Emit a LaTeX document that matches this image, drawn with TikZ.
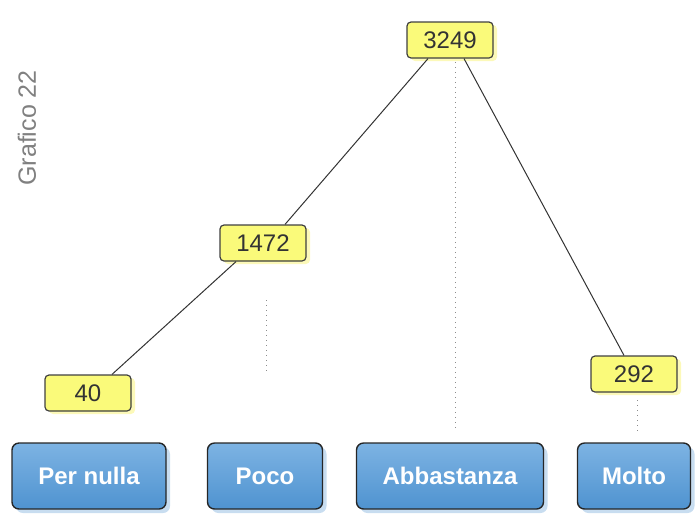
\documentclass[tikz,border=0pt]{standalone}
\usepackage{fontspec}
\setmainfont{Liberation Sans}
\usetikzlibrary{shadows,calc}
\definecolor{btnblue}{HTML}{4F93D0}
\definecolor{btnlight}{HTML}{7DB3E3}
\definecolor{valyellow}{HTML}{FAFA7A}
\definecolor{glow}{HTML}{FBF8A8}
\tikzset{
  val/.style={draw=black!75, line width=1.2pt, rounded corners=4pt, fill=valyellow,
    minimum width=86pt, minimum height=36pt, inner sep=1pt, font=\fontsize{24}{24}\selectfont, text=black!80,
    drop shadow={shadow xshift=4pt, shadow yshift=-3pt, fill=glow, opacity=0.8}},
  btn/.style={draw=black!85, line width=1.4pt, rounded corners=7pt,
    top color=btnlight, bottom color=btnblue, minimum height=66pt,
    font=\bfseries\fontsize{24}{24}\selectfont, text=white,
    drop shadow={shadow xshift=4pt, shadow yshift=-4pt, fill=btnblue!45, opacity=0.7}},
  edge/.style={draw=black!80, line width=1pt},
  dots/.style={draw=black!45, line width=1pt, dash pattern=on 1pt off 4pt},
}
\begin{document}
\begin{tikzpicture}[x=1pt,y=-1pt]
\useasboundingbox (0,0) rectangle (700,523);
\node[text=black!50, rotate=90, font=\fontsize{25}{25}\selectfont] (title) at (27,128) {Grafico 22};
% buttons
\node[btn, minimum width=154pt] (pn) at (89,476) {Per nulla};
\node[btn, minimum width=115pt] (poco) at (265,476) {Poco};
\node[btn, minimum width=187pt] (abb) at (450,476) {Abbastanza};
\node[btn, minimum width=113pt] (molto) at (634,476) {Molto};
% dotted guides
\coordinate (d1a) at (455,62);
\coordinate (d1b) at (455,430);
\coordinate (d2a) at (266,300);
\coordinate (d2b) at (266,372);
\coordinate (d3a) at (637,400);
\coordinate (d3b) at (637,432);
\draw[dots] (d1a) -- (d1b);
\draw[dots] (d2a) -- (d2b);
\draw[dots] (d3a) -- (d3b);
% value nodes
\node[val] (v3249) at (450,40) {3249};
\node[val] (v1472) at (263,243) {1472};
\node[val] (v40) at (88,393) {40};
\node[val] (v292) at (634,374) {292};
% edges
\draw[edge] ($(v3249.south)+(-22,0)$) -- ($(v1472.north)+(22,0)$);
\draw[edge] ($(v3249.south)+(14,0)$) -- ($(v292.north)+(-10,0)$);
\draw[edge] ($(v1472.south)+(-27,0)$) -- ($(v40.north)+(24,0)$);
\end{tikzpicture}
\end{document}
